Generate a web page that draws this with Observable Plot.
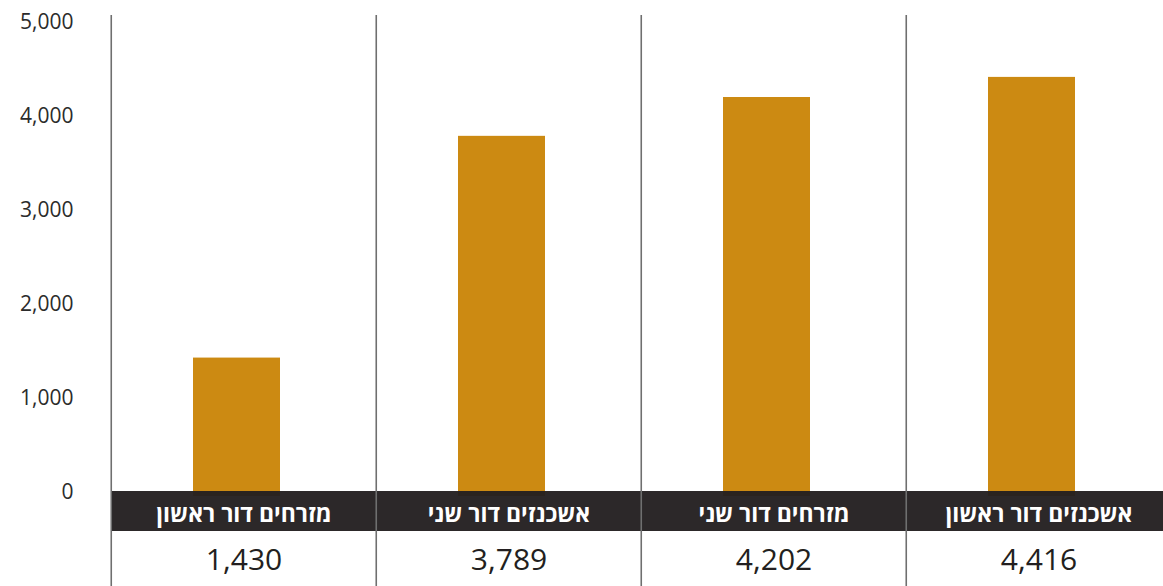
<!DOCTYPE html>
<html>
<head>
<meta charset="utf-8">
<script src="https://cdn.jsdelivr.net/npm/d3@7"></script>
<script src="https://cdn.jsdelivr.net/npm/@observablehq/plot@0.6"></script>
<style>
  html, body { margin: 0; padding: 0; background: #fff; }
  #chart svg { display: block; }
</style>
</head>
<body>
<div id="chart"></div>
<script>
const categories = ["מזרחים דור ראשון", "אשכנזים דור שני", "מזרחים דור שני", "אשכנזים דור ראשון"];
const values = [1430, 3789, 4202, 4416];
const yTicks = [0, 1000, 2000, 3000, 4000, 5000];

const data = categories.map((c, i) => ({cat: c, value: values[i]}));
const fmt = d3.format(",");
const font = "'Open Sans', 'Liberation Sans', 'DejaVu Sans', sans-serif";

const bandW = (1172 - 110) / categories.length;

const chart = Plot.plot({
  width: 1163,
  height: 586,
  marginLeft: 110,
  marginRight: 0,
  marginTop: 15,
  marginBottom: 0,
  style: {fontFamily: font, background: "#fff"},
  x: {domain: categories, range: [110, 1172], padding: 0, axis: null},
  y: {domain: [0, 5000], range: [492, 22], ticks: yTicks, tickFormat: fmt, axis: null},
  marks: [
    Plot.axisY({ticks: yTicks, tickFormat: fmt, tickSize: 0, tickPadding: 37, fontSize: 21, color: "#2b2b2b", label: null}),
    Plot.barY(data, {x: "cat", y: "value", fill: "#cc8a12", insetLeft: 82, insetRight: 96, insetBottom: -4}),
    Plot.barY(data, {x: "cat", y1: 0, y2: 0, fill: "#231f20", fillOpacity: 0.96, insetTop: -1, insetBottom: -39}),
    Plot.ruleX(data, {x: "cat", dx: -bandW / 2, stroke: "#6f6f6f", strokeWidth: 1.6}),
    Plot.text(data, {x: "cat", y: 0, text: "cat", dy: 22, fill: "#fff", fontSize: 23, fontWeight: "bold"}),
    Plot.text(data, {x: "cat", y: 0, text: d => fmt(d.value), dy: 68, fill: "#231f20", fontSize: 30})
  ]
});
document.getElementById("chart").append(chart);
</script>
</body>
</html>
